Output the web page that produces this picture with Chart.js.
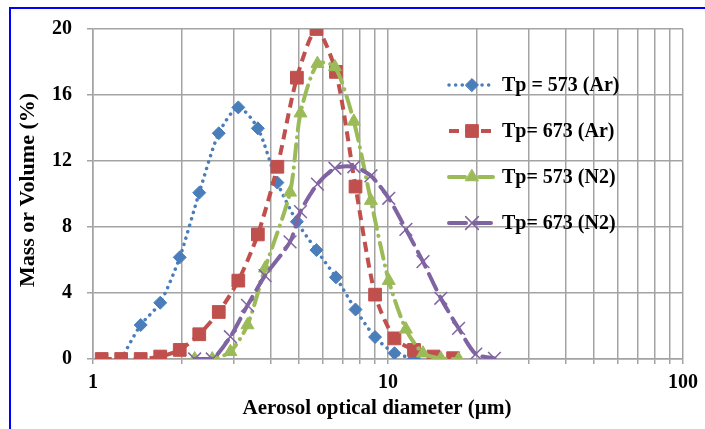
<!DOCTYPE html>
<html>
<head>
<meta charset="utf-8">
<script src="https://cdn.jsdelivr.net/npm/chart.js"></script>
<style>
    html, body { margin: 0; padding: 0; background: #fff; }
    #wrap { position: relative; width: 705px; height: 429px; overflow: hidden; }
    #frame { position: absolute; left: 9px; top: 7px; width: 720px; height: 450px;
             border-left: 2px solid #0000ff; border-top: 2px solid #0000ff; pointer-events: none; }
    #chart { position: absolute; left: 0; top: 0; }
</style>
</head>
<body>
<div id="wrap">
    <canvas id="chart" width="705" height="429"></canvas>
    <div id="frame"></div>
</div>
<script>
// particle size bins (µm)
const sizeAr = [1.07, 1.246, 1.451, 1.69, 1.968, 2.292, 2.669, 3.109, 3.621, 4.217, 4.911, 5.72, 6.66, 7.76, 9.04, 10.52, 12.25, 14.27, 16.62];
const sizeN2 = [2.211, 2.537, 2.922, 3.339, 3.83, 4.655, 5.05, 5.765, 6.61, 7.66, 8.75, 10.06, 11.5, 13.14, 15.1, 17.35, 19.84, 22.95];

// mass or volume (%)
const tp573Ar = [null, 0, 2.06, 3.41, 6.16, 10.08, 13.68, 15.25, 13.98, 10.69, 8.32, 6.6, 4.95, 3.0, 1.33, 0.35, 0.04, null, null];
const tp673Ar = [0, 0, 0, 0.15, 0.55, 1.5, 2.85, 4.75, 7.55, 11.65, 17.05, 20.0, 17.4, 10.45, 3.9, 1.25, 0.55, 0.15, 0.05];
const tp573N2 = [0, 0, 0.44, 2.06, 5.5, 10.1, 14.9, 17.9, 17.7, 14.4, 9.6, 4.75, 1.8, 0.35, 0.03, 0, null, null];
const tp673N2 = [0, 0, 1.35, 3.25, 5.05, 7.1, 8.93, 10.6, 11.56, 11.65, 11.1, 9.74, 7.86, 5.9, 3.68, 1.86, 0.3, 0.04];

const seriesNames = ['Tp = 573 (Ar)', 'Tp= 673 (Ar)', 'Tp= 573 (N2)', 'Tp= 673 (N2)'];
const xGridValues = [1, 2, 3, 4, 5, 6, 7, 8, 9, 10, 20, 30, 40, 50, 60, 70, 80, 90, 100];
const xLabelValues = [1, 10, 100];
const yTicks = [0, 4, 8, 12, 16, 20];

const serif = '"Liberation Serif", "Times New Roman", serif';
const gridColor = '#a3a3a3';

const toPoints = (xs, ys) => xs.map((x, i) => ({ x: x, y: ys[i] }));

// legend + axis titles drawn by hand so they sit where the original has them
const overlay = {
    id: 'overlay',
    afterDraw(chart) {
        const ctx = chart.ctx;
        const rows = [85, 131, 177, 223];
        chart.data.datasets.forEach((ds, i) => {
            const y = rows[i];
            ctx.save();
            ctx.strokeStyle = ds.borderColor;
            ctx.lineWidth = ds.borderWidth;
            ctx.lineCap = ds.borderCapStyle || 'butt';
            ctx.setLineDash(ds.borderDash || []);
            ctx.beginPath();
            ctx.moveTo(449, y);
            ctx.lineTo(493, y);
            ctx.stroke();
            ctx.setLineDash([]);
            ctx.fillStyle = ds.pointBackgroundColor;
            ctx.strokeStyle = ds.pointBorderColor;
            ctx.lineWidth = ds.pointBorderWidth;
            Chart.helpers.drawPoint(ctx, {
                pointStyle: ds.pointStyle, radius: ds.pointRadius, rotation: 0, borderWidth: ds.pointBorderWidth
            }, 472, y);
            ctx.fillStyle = '#000';
            ctx.font = 'bold 20px ' + serif;
            ctx.textBaseline = 'middle';
            ctx.textAlign = 'left';
            ctx.fillText(ds.label, 502, y + 1);
            ctx.restore();
        });

        ctx.save();
        ctx.fillStyle = '#000';
        ctx.textAlign = 'center';
        ctx.textBaseline = 'middle';
        ctx.font = 'bold 21px ' + serif;
        ctx.fillText('Aerosol optical diameter (µm)', 377, 409);
        ctx.translate(28, 190);
        ctx.rotate(-Math.PI / 2);
        ctx.font = 'bold 22px ' + serif;
        ctx.fillText('Mass or Volume (%)', 0, 0);
        ctx.restore();
    }
};

const ctx = document.getElementById('chart').getContext('2d');
new Chart(ctx, {
    type: 'line',
    data: {
        datasets: [
            {
                label: seriesNames[0],
                data: toPoints(sizeAr, tp573Ar),
                borderColor: '#4a7ebb', borderWidth: 3.5,
                borderDash: [0.1, 6.5], borderCapStyle: 'round',
                pointStyle: 'rectRot', pointRadius: 6.5,
                pointBackgroundColor: '#4a7ebb', pointBorderColor: '#4a7ebb', pointBorderWidth: 1,
                order: 4
            },
            {
                label: seriesNames[1],
                data: toPoints(sizeAr, tp673Ar),
                borderColor: '#c0504d', borderWidth: 4,
                borderDash: [10, 6], borderCapStyle: 'butt',
                pointStyle: 'rect', pointRadius: 9,
                pointBackgroundColor: '#c0504d', pointBorderColor: '#c0504d', pointBorderWidth: 1,
                order: 3
            },
            {
                label: seriesNames[2],
                data: toPoints(sizeN2, tp573N2),
                borderColor: '#9bbb59', borderWidth: 4,
                borderDash: [16, 7, 0.1, 7], borderCapStyle: 'round',
                pointStyle: 'triangle', pointRadius: 7.5,
                pointBackgroundColor: '#9bbb59', pointBorderColor: '#9bbb59', pointBorderWidth: 1,
                order: 2
            },
            {
                label: seriesNames[3],
                data: toPoints(sizeN2, tp673N2),
                borderColor: '#8064a2', borderWidth: 4,
                borderDash: [17, 8], borderCapStyle: 'round',
                pointStyle: 'crossRot', pointRadius: 9,
                pointBackgroundColor: '#8064a2', pointBorderColor: '#8064a2', pointBorderWidth: 1.5,
                order: 1
            }
        ]
    },
    options: {
        responsive: false,
        animation: false,
        devicePixelRatio: 1,
        layout: { padding: { left: 0, top: 29, right: 17, bottom: 0 } },
        elements: { line: { tension: 0.25, fill: false } },
        plugins: {
            legend: { display: false },
            tooltip: { enabled: false }
        },
        scales: {
            x: {
                type: 'logarithmic',
                min: 1,
                max: 100,
                afterBuildTicks: (scale) => { scale.ticks = xGridValues.map(v => ({ value: v })); },
                afterFit: (scale) => { scale.height = 70; },
                grid: { color: gridColor, lineWidth: 1.5, tickLength: 5 },
                border: { color: gridColor, width: 1.5 },
                ticks: {
                    autoSkip: false,
                    maxRotation: 0,
                    padding: 7,
                    color: '#000',
                    font: { family: serif, size: 20, weight: 'bold' },
                    callback: (v) => xLabelValues.includes(v) ? String(v) : ''
                }
            },
            y: {
                min: 0,
                max: 20,
                afterBuildTicks: (scale) => { scale.ticks = yTicks.map(v => ({ value: v })); },
                afterFit: (scale) => { scale.width = 93; },
                grid: { color: gridColor, lineWidth: 1.5, tickLength: 6 },
                border: { color: gridColor, width: 1.5 },
                ticks: {
                    padding: 15,
                    color: '#000',
                    font: { family: serif, size: 20, weight: 'bold' }
                }
            }
        }
    },
    plugins: [overlay]
});
</script>
</body>
</html>
